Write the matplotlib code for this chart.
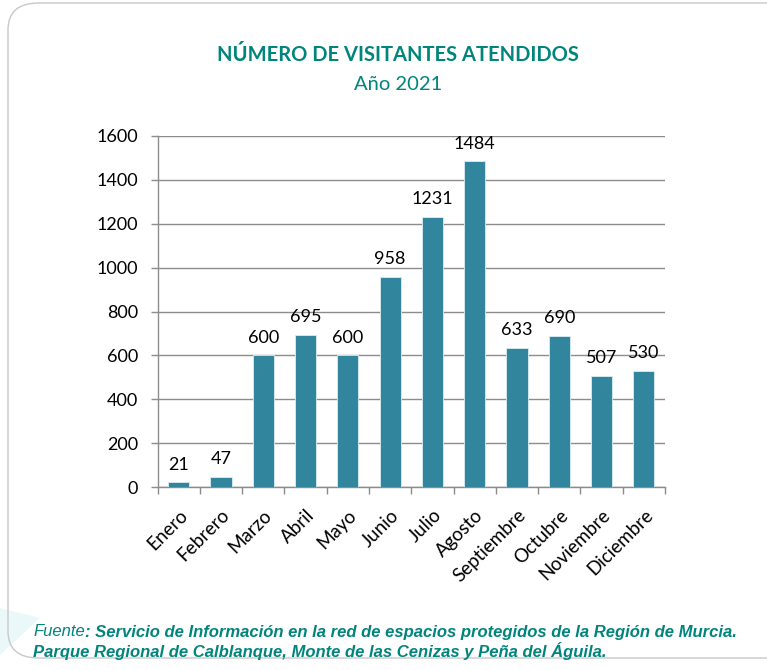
import matplotlib.pyplot as plt
from matplotlib.patches import FancyBboxPatch, Polygon
import numpy as np

meses = ['Enero', 'Febrero', 'Marzo', 'Abril', 'Mayo', 'Junio', 'Julio',
         'Agosto', 'Septiembre', 'Octubre', 'Noviembre', 'Diciembre']
visitantes = [21, 47, 600, 695, 600, 958, 1231, 1484, 633, 690, 507, 530]
yticks = [0, 200, 400, 600, 800, 1000, 1200, 1400, 1600]

W, H = 767, 670
fig = plt.figure(figsize=(W / 100, H / 100), dpi=100)
fig.patch.set_facecolor('white')

# adorno celeste a la izquierda
adorno = Polygon([(0, 1 - 608 / H), (40 / W, 1 - 618 / H), (0, 1 - 655 / H)],
                 closed=True, transform=fig.transFigure, facecolor='#eaf8fa',
                 edgecolor='none', zorder=-11)
fig.patches.append(adorno)

# marco redondeado
marco = FancyBboxPatch((8 / W, 12 / H), 800 / W, 655 / H,
                       boxstyle='round,pad=0,rounding_size=0.04',
                       transform=fig.transFigure, facecolor='none',
                       edgecolor='#c8c8c8', linewidth=1.0, zorder=-10)
fig.patches.append(marco)

teal = '#00857c'
fam = 'Lato'
fig.text(398 / W, 1 - 55 / H, 'NÚMERO DE VISITANTES ATENDIDOS', ha='center', va='center',
         fontsize=14.5, fontweight='bold', color=teal, family=fam)
fig.text(398 / W, 1 - 84 / H, 'Año 2021', ha='center', va='center',
         fontsize=14.5, color=teal, family=fam)

ax = fig.add_axes([157.5 / W, 1 - 487 / H, 507.5 / W, 351 / H])
ax.patch.set_alpha(0)
x = np.arange(len(meses))
ax.bar(x, visitantes, width=0.5, color='#31859c', edgecolor='#dbeef3', linewidth=0.6, zorder=3)
for xi, v in zip(x, visitantes):
    ax.text(xi, v + 45, str(v), ha='center', va='bottom', fontsize=13,
            family=fam, color='black', zorder=4)

ax.set_xlim(-0.5, len(meses) - 0.5)
ax.set_ylim(0, 1600)
ax.set_yticks(yticks)
ax.set_yticklabels([str(t) for t in yticks], fontsize=13, family=fam)
ax.yaxis.grid(True, color='#8c8c8c', linewidth=1.0, zorder=0)
ax.set_axisbelow(True)
ax.set_xticks(x)
ax.set_xticklabels(meses, rotation=45, ha='right', rotation_mode='anchor',
                   fontsize=13.5, family=fam)
ax.tick_params(axis='x', length=0, pad=14)
ax.set_xticks(np.arange(len(meses) + 1) - 0.5, minor=True)
ax.tick_params(axis='x', which='minor', length=5, color='#8c8c8c', width=1.0)
ax.tick_params(axis='y', length=5, color='#8c8c8c', width=1.0, pad=9)
for s in ['top', 'right']:
    ax.spines[s].set_visible(False)
for s in ['left', 'bottom']:
    ax.spines[s].set_color('#8c8c8c')
    ax.spines[s].set_linewidth(1.0)

# fuente
fuente_fam = ['Liberation Sans Narrow', 'Liberation Sans']
fs = 12
t0 = fig.text(33 / W, 1 - 632 / H, 'Fuente', ha='left', va='center', fontsize=fs,
              style='italic', color=teal, family=fuente_fam)
ax.annotate(': Servicio de Información en la red de espacios protegidos de la Región de Murcia.',
            xy=(1, 0.5), xycoords=t0, ha='left', va='center',
            fontsize=fs, style='italic', fontweight='bold',
            color=teal, family=fuente_fam, annotation_clip=False)
fig.text(33 / W, 1 - 651 / H,
         'Parque Regional de Calblanque, Monte de las Cenizas y Peña del Águila.',
         ha='left', va='center', fontsize=fs, style='italic', fontweight='bold',
         color=teal, family=fuente_fam)

fig.savefig('out.png', dpi=100)
